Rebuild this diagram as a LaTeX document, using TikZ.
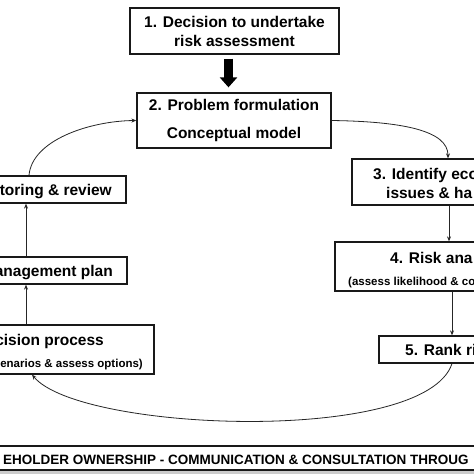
\documentclass[tikz,border=0pt]{standalone}
\usepackage{fontspec}
\setmainfont{Liberation Sans}
\usetikzlibrary{arrows.meta}
\begin{document}
\begin{tikzpicture}[x=1pt,y=-1pt,
  every node/.style={font=\bfseries\fontsize{15.5}{19}\selectfont, inner sep=0pt},
  box/.style={draw=black!90, line width=1.3pt, fill=white, rectangle},
  small/.style={font=\bfseries\fontsize{11.5}{13}\selectfont},
  banner/.style={font=\bfseries\fontsize{13.5}{16}\selectfont},
  arr/.style={draw=black!85, line width=0.8pt, -{Stealth[length=5pt,width=4pt]}},
  bigarr/.style={draw=black, line width=9pt, -{Triangle[length=10pt,width=17pt]}}]
\useasboundingbox (0,0) rectangle (474,474);
\clip (0,0) rectangle (474,474);
\fill[white] (0,0) rectangle (474,474);

% boxes
\node[box, minimum width=209pt, minimum height=46pt, align=center] (b1) at (234.5,31) {1. Decision to undertake\\risk assessment};
\node[box, minimum width=194pt, minimum height=55pt, align=center] (b2) at (234,120.5) {2. Problem formulation\\[9pt]Conceptual model};
\node[box, minimum width=248pt, minimum height=46pt] (b3) at (476,182) {};
\node[box, minimum width=265pt, minimum height=49pt] (b4) at (467.5,266.5) {};
\node[box, minimum width=221pt, minimum height=27pt] (b5) at (489.5,349.5) {};
\node[box, minimum width=326pt, minimum height=27pt] (b6) at (-37,189.5) {};
\node[box, minimum width=327pt, minimum height=27pt] (b7) at (-36.5,270.5) {};
\node[box, minimum width=354pt, minimum height=49pt] (b8) at (-23,349.5) {};
\fill[black!20] (-50,469) rectangle (600,480);
\node[box, minimum width=650pt, minimum height=24pt] (bn) at (275,458) {};

% texts
\node[anchor=base west] (t3a) at (373,179.5) {3. Identify eco};
\node[anchor=base west] (t3b) at (386,198.5) {issues \& ha};
\node[anchor=base west] (t4a) at (390,263.5) {4. Risk ana};
\node[anchor=base west, small] (t4b) at (348,285) {(assess likelihood \& co};
\node[anchor=base west] (t5) at (405,355.5) {5. Rank ri};
\node[anchor=base east] (t6) at (112,195.5) {toring \& review};
\node[anchor=base east] (t7) at (113,276.5) {anagement plan};
\node[anchor=base east] (t8a) at (104,345.5) {cision process};
\node[anchor=base east, small] (t8b) at (143,367) {enarios \& assess options)};
\node[anchor=base west, banner] (tb) at (3,464.5) {EHOLDER OWNERSHIP - COMMUNICATION \& CONSULTATION THROUG};

% connector x positions
\coordinate (xa) at (228.5,0);
\coordinate (x2) at (448,0);
\coordinate (x3) at (449,0);
\coordinate (x4) at (452,0);
\coordinate (x6) at (26,0);
\coordinate (x6t) at (29,0);
\coordinate (x8) at (32,0);

% connectors
\draw[bigarr, shorten <=4pt, shorten >=5pt] (xa |- b1.south) -- (xa |- b2.north);
\draw[arr] (b2.east) .. controls +(70,1) and +(0,-28) .. (x2 |- b3.north);
\draw[arr] (x3 |- b3.south) -- (x3 |- b4.north);
\draw[arr] (x4 |- b4.south) -- (x4 |- b5.north);
\draw[arr] (x4 |- b5.south) .. controls (425,445) and (80,432) .. (x8 |- b8.south);
\draw[arr] (x6 |- b8.north) -- (x6 |- b7.south);
\draw[arr] (x6 |- b7.north) -- (x6 |- b6.south);
\draw[arr] (x6t |- b6.north) .. controls (32,140) and (90,121) .. (b2.west);
\end{tikzpicture}
\end{document}
